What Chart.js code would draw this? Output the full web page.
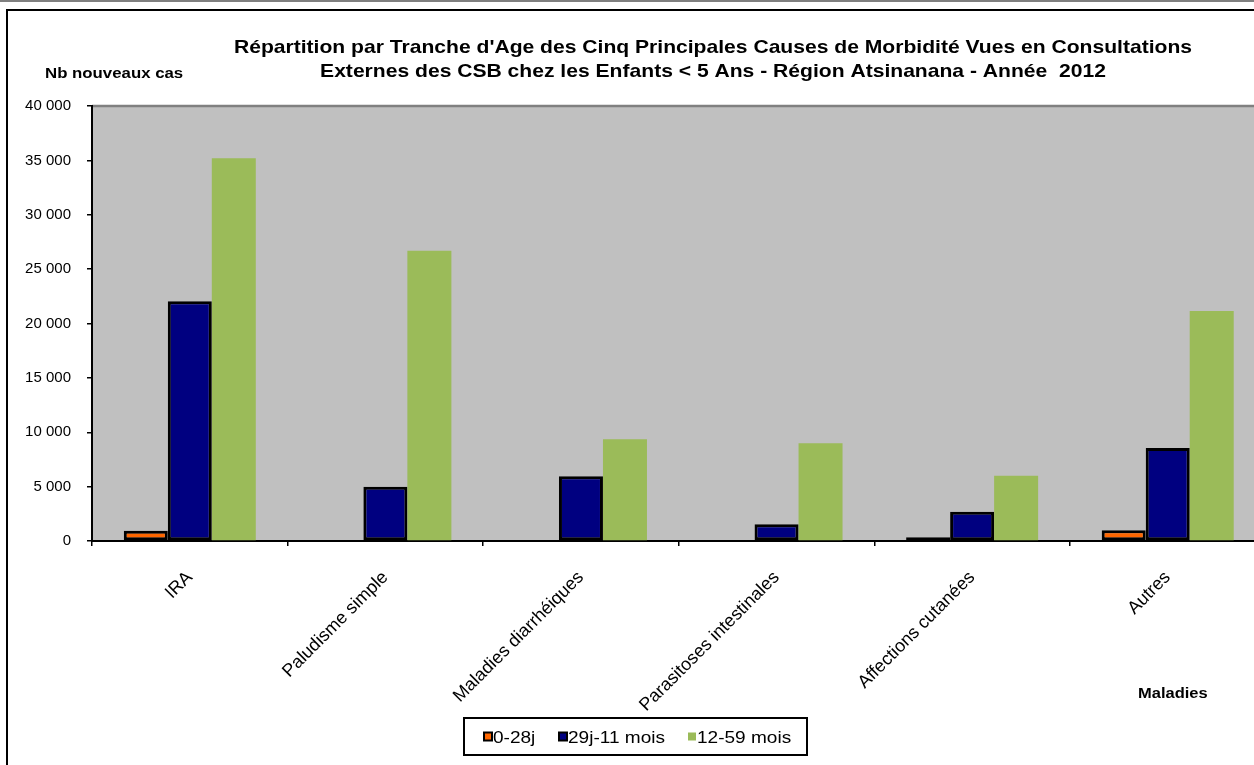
<!DOCTYPE html>
<html>
<head>
<meta charset="utf-8">
<script src="https://cdn.jsdelivr.net/npm/chart.js@4/dist/chart.umd.min.js"></script>
<style>
  html, body { margin: 0; padding: 0; background: #ffffff; overflow: hidden; width: 1254px; height: 765px; }
  #wrap { position: absolute; left: 0; top: 0; width: 1268px; height: 765px; }
</style>
</head>
<body>
<div id="wrap"><canvas id="c" width="1268" height="765"></canvas></div>
<script>
// ---- Data ----
const categories = ["IRA", "Paludisme simple", "Maladies diarrhéiques", "Parasitoses intestinales", "Affections cutanées", "Autres"];
const seriesNames = ["0-28j", "29j-11 mois", "12-59 mois"];
const neonatal = [950, 0, 100, 0, 350, 1000];
const infants = [22050, 5000, 5950, 1550, 2700, 8550];
const children = [35200, 26700, 9350, 9000, 6000, 21150];
const yTicks = [0, 5000, 10000, 15000, 20000, 25000, 30000, 35000, 40000];
const titleLines = ["Répartition par Tranche d'Age des Cinq Principales Causes de Morbidité Vues en Consultations",
                    "Externes des CSB chez les Enfants < 5 Ans - Région Atsinanana - Année  2012"];
const yAxisTitle = "Nb nouveaux cas";
const xAxisTitle = "Maladies";

const FONT = "'Liberation Sans', Arial, sans-serif";

function fmt(v) { return String(v).replace(/\B(?=(\d{3})+(?!\d))/g, ' '); }

function drawScaledText(ctx, text, x, y, font, sx, align) {
  ctx.save();
  ctx.font = font;
  ctx.fillStyle = '#000';
  ctx.textBaseline = 'alphabetic';
  const w = ctx.measureText(text).width * sx;
  let left = x;
  if (align === 'center') left = x - w / 2;
  else if (align === 'right') left = x - w;
  ctx.translate(left, y);
  ctx.scale(sx, 1);
  ctx.textAlign = 'left';
  ctx.fillText(text, 0, 0);
  ctx.restore();
}

const decor = {
  id: 'decor',
  beforeDraw(chart) {
    const { ctx, chartArea: a } = chart;
    ctx.save();
    ctx.fillStyle = '#fff';
    ctx.fillRect(0, 0, chart.width, chart.height);
    ctx.strokeStyle = '#808080';
    ctx.lineWidth = 2;
    ctx.beginPath(); ctx.moveTo(0, 1); ctx.lineTo(chart.width, 1); ctx.stroke();
    ctx.strokeStyle = '#000';
    ctx.lineWidth = 2;
    ctx.beginPath();
    ctx.moveTo(7, chart.height); ctx.lineTo(7, 10); ctx.lineTo(chart.width, 10);
    ctx.stroke();
    ctx.fillStyle = '#C0C0C0';
    ctx.fillRect(a.left, a.top, a.right - a.left, a.bottom - a.top);
    ctx.strokeStyle = '#808080';
    ctx.lineWidth = 2.5;
    ctx.beginPath(); ctx.moveTo(a.left, a.top); ctx.lineTo(a.right, a.top); ctx.stroke();
    ctx.restore();
  },
  afterDraw(chart) {
    const { ctx } = chart;
    drawScaledText(ctx, titleLines[0], 713, 53, "bold 19px " + FONT, 1.11, 'center');
    drawScaledText(ctx, titleLines[1], 713, 77, "bold 19px " + FONT, 1.11, 'center');
    drawScaledText(ctx, yAxisTitle, 45, 78, "bold 15px " + FONT, 1.12, 'left');
    drawScaledText(ctx, xAxisTitle, 1138, 698, "bold 15px " + FONT, 1.1, 'left');
    const lx = 464, ly = 718, lw = 343, lh = 37;
    ctx.save();
    ctx.fillStyle = '#fff';
    ctx.fillRect(lx, ly, lw, lh);
    ctx.strokeStyle = '#000';
    ctx.lineWidth = 2;
    ctx.strokeRect(lx, ly, lw, lh);
    ctx.restore();
    const itemX = [484, 559, 688];
    const cy = ly + lh / 2;
    chart.data.datasets.forEach((ds, i) => {
      ctx.save();
      const x = itemX[i];
      ctx.fillStyle = ds.backgroundColor;
      ctx.fillRect(x, cy - 4, 8, 8);
      if (ds.borderWidth > 0) {
        ctx.strokeStyle = '#000';
        ctx.lineWidth = 2;
        ctx.strokeRect(x, cy - 4, 8, 8);
      }
      ctx.restore();
      drawScaledText(ctx, ds.label, x + 9, cy + 6, "17px " + FONT, 1.12, 'left');
    });
  }
};

const ctx = document.getElementById('c').getContext('2d');
new Chart(ctx, {
  type: 'bar',
  data: {
    labels: categories,
    datasets: [
      { label: seriesNames[0], data: neonatal, backgroundColor: '#FF6600', borderColor: '#000', borderWidth: 3, borderSkipped: false },
      { label: seriesNames[1], data: infants, backgroundColor: '#000080', borderColor: '#000', borderWidth: 3, borderSkipped: false },
      { label: seriesNames[2], data: children, backgroundColor: '#9BBB59', borderWidth: 0 }
    ]
  },
  options: {
    responsive: false,
    animation: false,
    devicePixelRatio: 1,
    layout: { padding: { top: 106, left: 0, right: 2.5, bottom: 0 } },
    plugins: { legend: { display: false }, title: { display: false }, tooltip: { enabled: false } },
    datasets: { bar: { categoryPercentage: 0.675, barPercentage: 1.0 } },
    scales: {
      x: {
        offset: true,
        border: { color: '#000', width: 2 },
        grid: { display: true, drawOnChartArea: false, drawTicks: true, tickLength: 5, color: '#000', lineWidth: 1.5, offset: true },
        ticks: { color: '#000', font: { family: FONT, size: 18 }, minRotation: 45, maxRotation: 45, padding: 21, autoSkip: false },
        afterFit(scale) { scale.height = 224; }
      },
      y: {
        min: 0, max: 40000,
        afterBuildTicks(scale) { scale.ticks = yTicks.map(v => ({ value: v })); },
        border: { color: '#000', width: 2 },
        grid: { display: true, drawOnChartArea: false, drawTicks: true, tickLength: 5, color: '#000', lineWidth: 1.5 },
        ticks: { color: '#000', font: { family: FONT, size: 15 }, padding: 16, callback: (v) => fmt(v) },
        afterFit(scale) { scale.width = 92; }
      }
    }
  },
  plugins: [decor]
});
</script>
</body>
</html>
